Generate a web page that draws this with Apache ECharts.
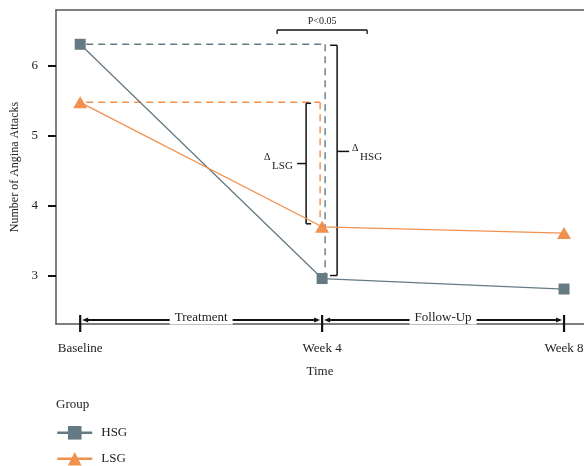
<!DOCTYPE html>
<html>
<head>
<meta charset="utf-8">
<script src="https://cdn.jsdelivr.net/npm/echarts@6/dist/echarts.min.js"></script>
<style>
  html, body { margin: 0; padding: 0; background: #fff; }
  #chart { width: 584px; height: 466px; }
</style>
</head>
<body>
<div id="chart"></div>
<script>
// data
var categories = ['Baseline', 'Week 4', 'Week 8'];
var weeks = [0, 4, 8];
var hsgValues = [6.31, 2.96, 2.81];
var lsgValues = [5.48, 3.70, 3.61];
var yTicks = [3, 4, 5, 6];
var phases = ['Treatment', 'Follow-Up'];

var hsgColor = '#667a83';
var lsgColor = '#f0914f';
var font = '"Liberation Serif", serif';

var myChart = echarts.init(document.getElementById('chart'));

function pairs(vals) {
  return vals.map(function (v, i) { return [weeks[i], v]; });
}

// brackets, dashed guides and phase arrows
function renderNotes(params, api) {
  var kids = [];
  var b = api.coord([weeks[0], hsgValues[0]]);
  var w4h = api.coord([weeks[1], hsgValues[1]]);
  var bl = api.coord([weeks[0], lsgValues[0]]);
  var w4l = api.coord([weeks[1], lsgValues[1]]);
  var x4 = w4h[0];
  var dash = { lineWidth: 1.4, lineDash: [7, 5] };

  function line(x1, y1, x2, y2, st) {
    kids.push({ type: 'line', shape: { x1: x1, y1: y1, x2: x2, y2: y2 }, style: st });
  }
  function blk(w) { return { stroke: '#111', lineWidth: w || 1.5 }; }
  function txt(s, x, y, size, align, extra) {
    var st = { text: s, x: x, y: y, fill: '#222', font: size + 'px ' + font, align: align || 'center', verticalAlign: 'middle' };
    if (extra) for (var k in extra) st[k] = extra[k];
    kids.push({ type: 'text', style: st });
  }

  // dashed guides
  line(b[0] + 6, b[1], x4 + 3, b[1], Object.assign({ stroke: hsgColor }, dash));
  line(x4 + 3, b[1], x4 + 3, w4h[1] - 5, Object.assign({ stroke: hsgColor }, dash));
  line(bl[0] + 6, bl[1], x4 - 2, bl[1], Object.assign({ stroke: lsgColor }, dash));
  line(x4 - 2, bl[1], x4 - 2, w4l[1] - 6, Object.assign({ stroke: lsgColor }, dash));

  // delta HSG bracket
  var hx = x4 + 15, ht = b[1] + 1, hb = w4h[1] - 3, hm = (ht + hb) / 2 - 9;
  line(hx - 7, ht, hx, ht, blk());
  line(hx, ht, hx, hb, blk());
  line(hx - 7, hb, hx, hb, blk());
  line(hx, hm, hx + 12, hm, blk());
  txt('\u0394', hx + 18, hm - 3, 10, 'center');
  txt('HSG', hx + 23, hm + 6, 11, 'left');

  // delta LSG bracket
  var lx = x4 - 16, lt = bl[1] + 1, lb = w4l[1] - 3, lm = (lt + lb) / 2;
  line(lx, lt, lx + 5, lt, blk());
  line(lx, lt, lx, lb, blk());
  line(lx, lb, lx + 5, lb, blk());
  line(lx - 9, lm, lx, lm, blk());
  txt('\u0394', lx - 39, lm - 6, 10, 'center');
  txt('LSG', lx - 34, lm + 3, 11, 'left');

  // P bracket
  var py = 30;
  line(x4 - 45, py + 4, x4 - 45, py, blk(1.3));
  line(x4 - 45, py, x4 + 45, py, blk(1.3));
  line(x4 + 45, py, x4 + 45, py + 4, blk(1.3));
  txt('P<0.05', x4, py - 9, 10, 'center');

  // phase arrows along the bottom
  var yBase = api.coord([0, 2.31])[1];
  var ay = yBase - 4;
  var xs = weeks.map(function (w) { return api.coord([w, 3])[0]; });
  xs.forEach(function (x) { line(x, yBase - 9, x, yBase + 8, blk(2.2)); });
  for (var i = 0; i < phases.length; i++) {
    var x1 = xs[i] + 2, x2 = xs[i + 1] - 2;
    line(x1 + 4, ay, x2 - 4, ay, blk(2.2));
    kids.push({ type: 'polygon', shape: { points: [[x1, ay], [x1 + 6, ay - 2.5], [x1 + 6, ay + 2.5]] }, style: { fill: '#111' } });
    kids.push({ type: 'polygon', shape: { points: [[x2, ay], [x2 - 6, ay - 2.5], [x2 - 6, ay + 2.5]] }, style: { fill: '#111' } });
    txt(phases[i], (xs[i] + xs[i + 1]) / 2, ay - 2, 13, 'center', { backgroundColor: '#fff', padding: [0, 5] });
  }
  return { type: 'group', children: kids };
}

function legendAt(name, top) {
  return {
    data: [name], orient: 'vertical', left: 56, top: top, padding: 0,
    itemWidth: 35, itemHeight: 17,
    lineStyle: { width: 2.5 },
    textStyle: { fontFamily: font, fontSize: 13, color: '#222', padding: [0, 0, 0, 4] }
  };
}

var option = {
  animation: false,
  textStyle: { fontFamily: font },
  grid: { left: 56, top: 10, right: 0, bottom: 142, outerBoundsMode: 'none', containLabel: false },
  title: {
    text: 'Group', left: 56, top: 398, padding: 0,
    textStyle: { fontFamily: font, fontSize: 13, fontWeight: 'normal', color: '#222' }
  },
  legend: [legendAt('HSG', 426), legendAt('LSG', 452)],
  xAxis: [{
    type: 'value', min: -0.4, max: 8.33,
    name: 'Time', nameLocation: 'middle', nameGap: 41,
    nameTextStyle: { fontFamily: font, fontSize: 13, color: '#222' },
    axisLine: { show: true, onZero: false, lineStyle: { color: '#555', width: 1.5 } },
    axisTick: { show: false },
    splitLine: { show: false },
    axisLabel: {
      customValues: weeks, margin: 18, fontFamily: font, fontSize: 13, color: '#222',
      formatter: function (v) { return categories[weeks.indexOf(v)] || ''; }
    }
  }, {
    type: 'value', min: -0.4, max: 8.33, position: 'top',
    axisLine: { show: true, onZero: false, lineStyle: { color: '#555', width: 1.5 } },
    axisTick: { show: false }, axisLabel: { show: false }, splitLine: { show: false }
  }],
  yAxis: {
    type: 'value', min: 2.31, max: 6.8,
    name: 'Number of Angina Attacks', nameLocation: 'middle', nameGap: 34,
    nameTextStyle: { fontFamily: font, fontSize: 12, color: '#222' },
    axisLine: { show: true, onZero: false, lineStyle: { color: '#555', width: 1.5 } },
    axisTick: { show: true, customValues: yTicks, length: 8, lineStyle: { color: '#111', width: 2 } },
    axisLabel: { customValues: yTicks, margin: 18, fontFamily: font, fontSize: 13, color: '#222' },
    splitLine: { show: false }
  },
  series: [{
    type: 'custom', z: 1, silent: true,
    renderItem: renderNotes,
    data: [[0, 3]]
  }, {
    name: 'HSG', type: 'line', z: 3,
    data: pairs(hsgValues),
    symbol: 'rect', symbolSize: 11,
    itemStyle: { color: hsgColor },
    lineStyle: { color: hsgColor, width: 1.3 }
  }, {
    name: 'LSG', type: 'line', z: 3,
    data: pairs(lsgValues),
    symbol: 'triangle', symbolSize: [14, 12],
    itemStyle: { color: lsgColor },
    lineStyle: { color: lsgColor, width: 1.3 }
  }]
};
myChart.setOption(option);
</script>
</body>
</html>
